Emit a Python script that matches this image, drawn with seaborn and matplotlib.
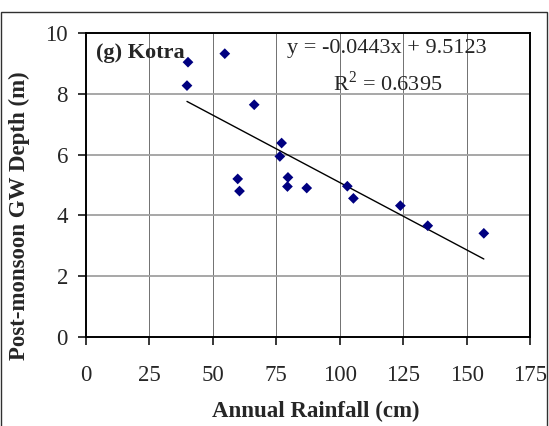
import matplotlib
matplotlib.use("Agg")
import matplotlib.pyplot as plt
import seaborn as sns
import numpy as np
import pandas as pd
from matplotlib.patches import Rectangle

# Data
rainfall = [40.2, 39.8, 54.7, 66.3, 77.1, 76.4, 59.8, 60.5, 79.6, 79.4,
            87.0, 103.0, 105.4, 123.9, 134.7, 156.8]
depth = [9.04, 8.27, 9.32, 7.64, 6.38, 5.94, 5.20, 4.80, 5.25, 4.95,
         4.90, 4.96, 4.56, 4.32, 3.66, 3.41]
slope = -0.0443
intercept = 9.5123
r2 = 0.6395
x_ticks = [0, 25, 50, 75, 100, 125, 150, 175]
y_ticks = [0, 2, 4, 6, 8, 10]
panel_label = "(g) Kotra"

df = pd.DataFrame({"rain": rainfall, "depth": depth})

sns.set_style("white")
plt.rcParams["font.family"] = ["Liberation Serif", "DejaVu Serif"]
plt.rcParams["mathtext.fontset"] = "custom"
plt.rcParams["mathtext.rm"] = "Liberation Serif"

fig = plt.figure(figsize=(5.49, 4.26), dpi=100)
ax = fig.add_axes([86/549, 1-337/426, (530-86)/549, (337-33)/426])

# gridlines
for xv in x_ticks[1:-1]:
    ax.axvline(xv, color="#5a5a5a", lw=0.6, zorder=0)
for yv in y_ticks[1:-1]:
    ax.axhline(yv, color="#a0a0a0", lw=1.3, zorder=0)

sns.scatterplot(data=df, x="rain", y="depth", marker="D", s=30,
                color="#000080", edgecolor="none", ax=ax, zorder=3)

xl = np.array([min(rainfall), max(rainfall)])
sns.lineplot(x=xl, y=slope*xl + intercept, color="black", lw=1.0, ax=ax, zorder=2)

ax.set_xlim(0, 175)
ax.set_ylim(0, 10)
ax.set_xticks(x_ticks)
ax.set_yticks(y_ticks)
ax.tick_params(axis="x", direction="out", length=6, width=1.3, labelsize=16.5, pad=14,
               bottom=True, top=False)
ax.tick_params(axis="y", direction="out", length=6, width=1.3, labelsize=16.5, pad=7,
               left=True, right=False)
for sp in ax.spines.values():
    sp.set_linewidth(1.4)
    sp.set_color("black")

ax.set_xlabel("Annual Rainfall (cm)", fontsize=16.5, fontweight="bold")
ax.set_ylabel("Post-monsoon GW Depth (m)", fontsize=16.5, fontweight="bold")
ax.xaxis.set_label_coords((316-86)/444, (337-411.7)/304)
ax.yaxis.set_label_coords((19-86)/444, (337-216)/304)
ax.xaxis.label.set_va("center")
ax.yaxis.label.set_va("center")

ax.text(96/549, 1 - 52.7/426, panel_label, transform=fig.transFigure, fontsize=16,
        fontweight="bold", ha="left", va="center")
ax.text(387/549, 1 - 49/426, "y = -0.0443x + 9.5123", transform=fig.transFigure,
        fontsize=16, ha="center", va="center")
ax.text(388/549, 1 - 83/426, r"R$^2$ = 0.6395", transform=fig.transFigure,
        fontsize=16, ha="center", va="center")

fig.patches.append(Rectangle((1/549, -0.05), 546/549, 1.05 - 12/426,
                             transform=fig.transFigure, fill=False,
                             edgecolor="#303030", lw=1.0))

fig.savefig("out.png", dpi=100)
